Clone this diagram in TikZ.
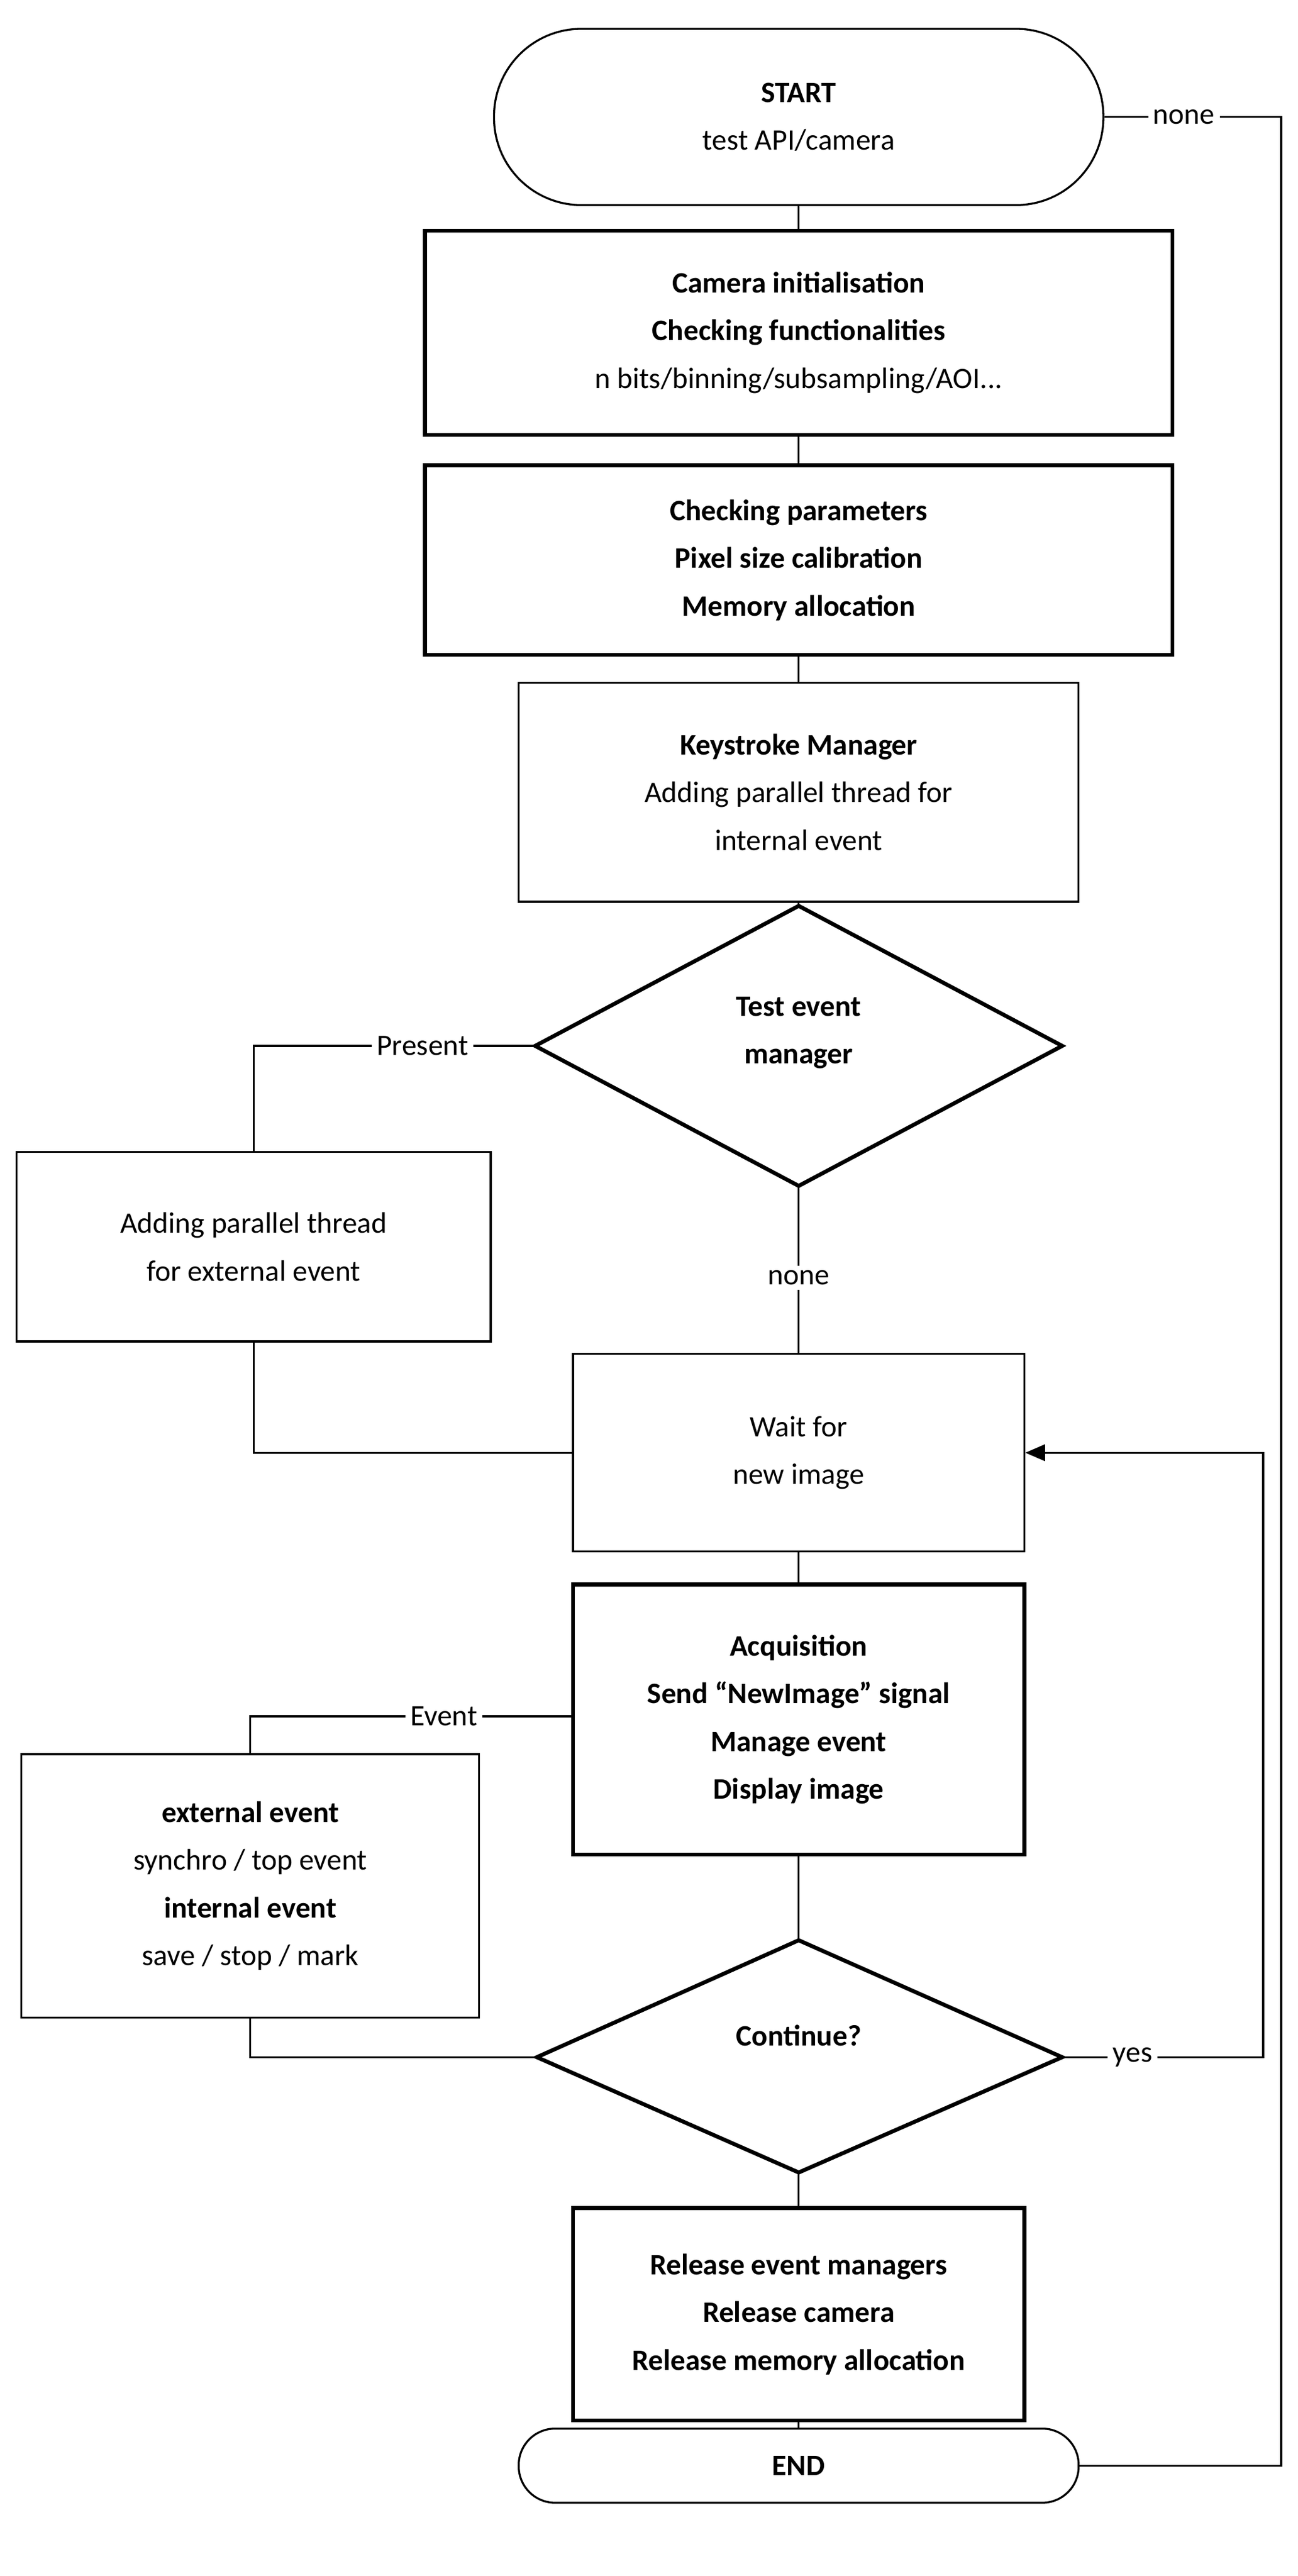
\documentclass[tikz,border=0pt]{standalone}
\usepackage{fontspec}
\setmainfont{Carlito}
\usetikzlibrary{arrows.meta}
\begin{document}
\begin{tikzpicture}[x=1pt,y=-1pt,
  every node/.style={font=\fontsize{18}{29}\selectfont},
  box/.style={draw,line width=1.2pt,align=center,inner sep=0pt},
  tbox/.style={box,line width=2.4pt},
  ln/.style={line width=1.2pt},
  lbl/.style={fill=white,inner sep=3pt}]
\useasboundingbox (0,0) rectangle (788,1564);
\node[box,rounded corners=53pt,minimum width=370pt,minimum height=107pt] (start) at (485,71) {\textbf{START}\\test API/camera};
\node[tbox,minimum width=454pt,minimum height=124pt] (b1) at (485,202) {\textbf{Camera initialisation}\\\textbf{Checking functionalities}\\n bits/binning/subsampling/AOI...};
\node[tbox,minimum width=454pt,minimum height=115pt] (b2) at (485,340) {\textbf{Checking parameters}\\\textbf{Pixel size calibration}\\\textbf{Memory allocation}};
\node[box,minimum width=340pt,minimum height=133pt] (b3) at (485,481) {\textbf{Keystroke Manager}\\Adding parallel thread for\\internal event};
\coordinate (d1t) at (485,550); \coordinate (d1b) at (485,720);
\coordinate (d1l) at (325,635); \coordinate (d1r) at (645,635);
\draw[line width=2.4pt] (d1t) -- (d1r) -- (d1b) -- (d1l) -- cycle;
\node[align=center] (d1) at (485,627) {\textbf{Test event}\\\textbf{manager}};
\node[box,minimum width=288pt,minimum height=115pt] (b4) at (154,757) {Adding parallel thread\\for external event};
\node[box,minimum width=274pt,minimum height=120pt] (w) at (485,882) {Wait for\\new image};
\node[tbox,minimum width=274pt,minimum height=164pt] (acq) at (485,1044) {\textbf{Acquisition}\\\textbf{Send ``NewImage'' signal}\\\textbf{Manage event}\\\textbf{Display image}};
\node[box,minimum width=278pt,minimum height=160pt] (b5) at (152,1145) {\textbf{external event}\\synchro / top event\\\textbf{internal event}\\save / stop / mark};
\coordinate (d2t) at (485,1178); \coordinate (d2b) at (485,1319);
\coordinate (d2l) at (326,1249); \coordinate (d2r) at (645,1249);
\draw[line width=2.4pt] (d2t) -- (d2r) -- (d2b) -- (d2l) -- cycle;
\node (d2) at (485,1236) {\textbf{Continue?}};
\node[tbox,minimum width=274pt,minimum height=129pt] (rel) at (485,1405) {\textbf{Release event managers}\\\textbf{Release camera}\\\textbf{Release memory allocation}};
\node[box,rounded corners=22pt,minimum width=340pt,minimum height=45pt] (end) at (485,1497) {\textbf{END}};
\draw[ln] (start) -- (b1);
\draw[ln] (b1) -- (b2);
\draw[ln] (b2) -- (b3);
\draw[ln] (b3) -- (d1t);
\draw[ln] (d1b) -- node[lbl,pos=0.55] (nn) {none} (w);
\draw[ln] (d1l) -- node[lbl,pos=0.4] (pr) {Present} (d1l -| b4) -- (b4);
\draw[ln] (b4) |- (w);
\draw[ln] (w) -- (acq);
\coordinate (ev) at (348,1042);
\draw[ln] (ev) -- node[lbl,pos=0.4] (evl) {Event} (ev -| b5) -- (b5);
\draw[ln] (b5) |- (d2l);
\draw[ln] (acq) -- (d2t);
\coordinate (yr) at (767,1249);
\draw[ln,-{Triangle[length=12pt,width=10pt]}] (d2r) -- node[lbl,pos=0.35] (ye) {yes} (yr) |- (w.east);
\draw[ln] (d2b) -- (rel);
\draw[ln] (rel) -- (end);
\coordinate (nr) at (778,71);
\draw[ln] (start.east) -- node[lbl,pos=0.45] (nl) {none} (nr) |- (end.east);
\end{tikzpicture}
\end{document}
